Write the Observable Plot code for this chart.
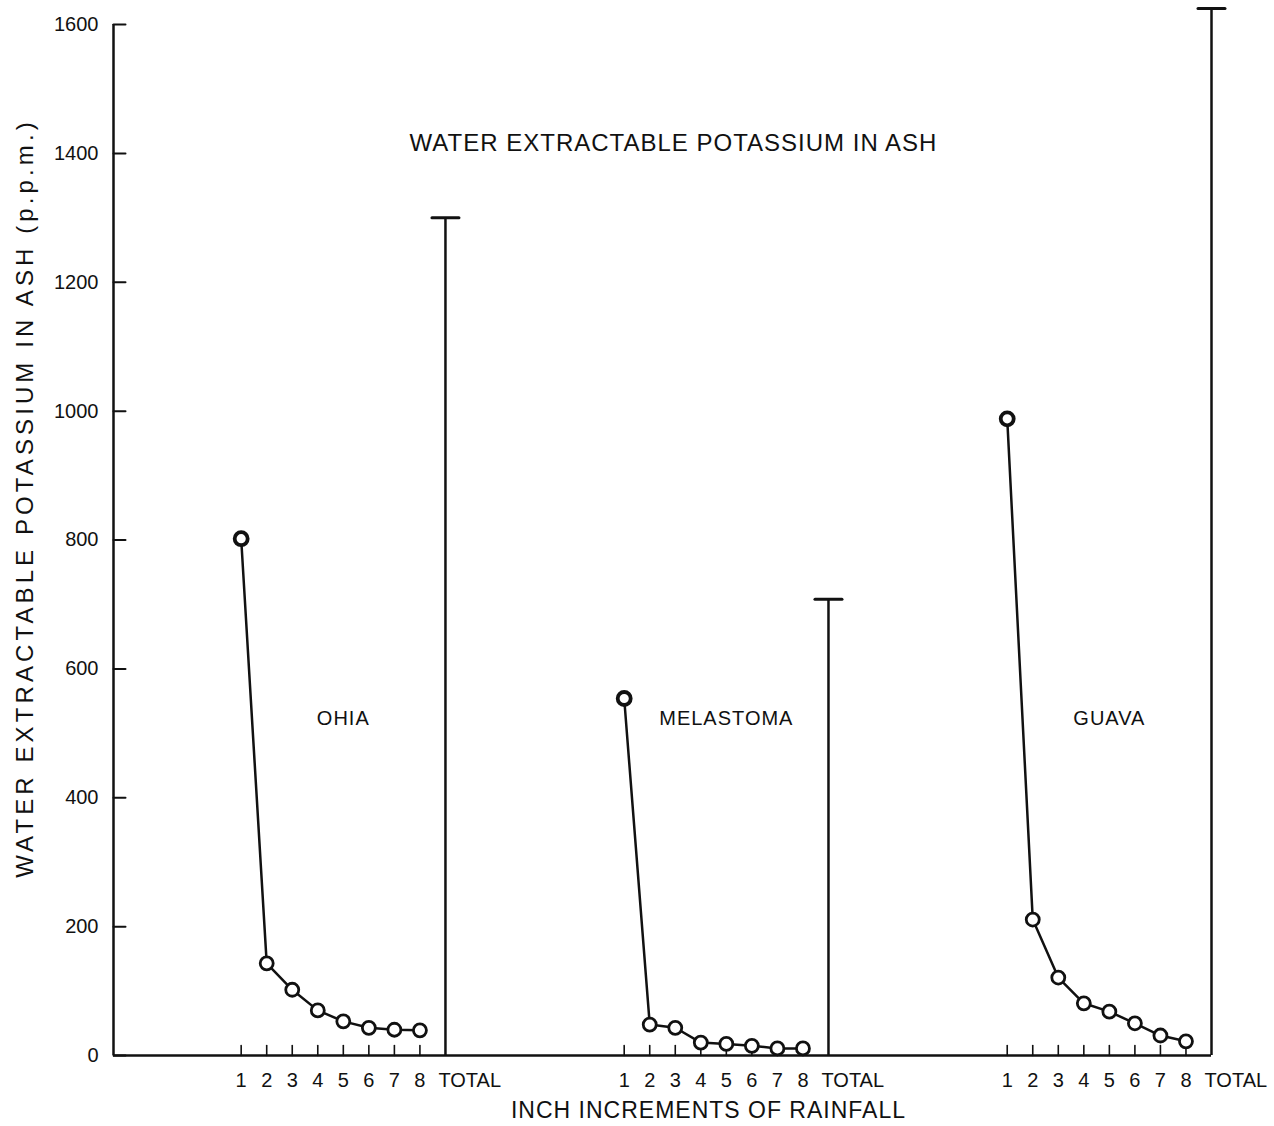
<!DOCTYPE html>
<html>
<head>
<meta charset="utf-8">
<script src="https://cdn.jsdelivr.net/npm/d3@7"></script>
<script src="https://cdn.jsdelivr.net/npm/@observablehq/plot@0.6"></script>
<style>
  html, body { margin: 0; padding: 0; background: #fff; }
  #chart svg { display: block; }
</style>
</head>
<body>
<div id="chart"></div>
<script>
// ---- data ----
const groups = ["OHIA", "MELASTOMA", "GUAVA"];
const increments = [1, 2, 3, 4, 5, 6, 7, 8];
const ohia = [802, 143, 102, 70, 53, 43, 40, 39];
const melastoma = [554, 48, 43, 20, 18, 15, 11, 11];
const guava = [988, 211, 121, 81, 68, 50, 31, 22];
const totals = [1300, 708, 1625];
const yTicks = [0, 200, 400, 600, 800, 1000, 1200, 1400, 1600];
const totalLabel = "TOTAL";
const title = "WATER EXTRACTABLE POTASSIUM IN ASH";
const yLabel = "WATER EXTRACTABLE POTASSIUM IN ASH (p.p.m.)";
const xLabel = "INCH INCREMENTS OF RAINFALL";

// ---- layout helpers ----
const seriesValues = [ohia, melastoma, guava];
const firstSlot = 5, groupStride = 15;
const pos = (gi, slot) => firstSlot + gi * groupStride + (slot - 1); // slot 9 = TOTAL

const points = groups.flatMap((g, gi) =>
  increments.map((inc, k) => ({group: g, x: pos(gi, inc), value: seriesValues[gi][k], first: k === 0})));
const totalRows = groups.map((g, gi) => ({group: g, x: pos(gi, 9), value: totals[gi]}));
const incTicks = groups.flatMap((g, gi) => increments.map(inc => ({x: pos(gi, inc), label: String(inc)})));
const incLabel = new Map(incTicks.map(d => [d.x, d.label]));
const groupLabelRows = groups.map((g, gi) => ({group: g, x: pos(gi, 5)}));

const lineShape = {draw(context, l) { context.moveTo(0, 0); context.lineTo(0, -l); }};

const chart = Plot.plot({
  width: 1274,
  height: 1126,
  marginLeft: 113,
  marginRight: 63,
  marginTop: 24,
  marginBottom: 71,
  style: {fontFamily: "'Liberation Sans', Arial, sans-serif", color: "#111", background: "#fff"},
  x: {domain: [0, 43]},
  y: {domain: [0, 1600]},
  marks: [
    // axis lines
    Plot.ruleX([0], {stroke: "#111", strokeWidth: 2.5}),
    Plot.ruleY([0], {stroke: "#111", strokeWidth: 2.5}),
    // inward ticks
    Plot.vector(yTicks, {y: d => d, frameAnchor: "left", rotate: 90, length: 12, anchor: "start", shape: lineShape, stroke: "#111", strokeWidth: 2}),
    Plot.vector(incTicks, {x: "x", frameAnchor: "bottom", length: 10, anchor: "start", shape: lineShape, stroke: "#111", strokeWidth: 1.6}),
    // tick labels
    Plot.axisY({ticks: yTicks, tickFormat: d => String(d), tickSize: 0, tickPadding: 15, fontSize: 20, label: null}),
    Plot.axisX({ticks: incTicks.map(d => d.x), tickFormat: d => incLabel.get(d), tickSize: 0, tickPadding: 17, fontSize: 20, label: null}),
    Plot.axisX({ticks: totalRows.map(d => d.x), tickFormat: () => totalLabel, tickSize: 0, tickPadding: 17, fontSize: 20, textAnchor: "start", dx: -7, label: null}),
    // totals
    Plot.ruleX(totalRows, {x: "x", y1: 0, y2: "value", stroke: "#111", strokeWidth: 2.5}),
    Plot.vector(totalRows, {x: "x", y: "value", rotate: 90, length: 27, anchor: "middle", shape: lineShape, stroke: "#111", strokeWidth: 3}),
    // series
    Plot.line(points, {x: "x", y: "value", z: "group", stroke: "#111", strokeWidth: 2.5}),
    Plot.dot(points, {x: "x", y: "value", r: 6.5, fill: "#fff", stroke: "#111", strokeWidth: d => d.first ? 3.8 : 2.8}),
    // group labels
    Plot.text(groupLabelRows, {x: "x", y: () => 523, text: "group", fontSize: 20, fill: "#111"}),
    // title and axis labels
    Plot.text([title], {frameAnchor: "top", dx: 11, dy: 119, lineAnchor: "middle", fontSize: 24, fill: "#111"}),
    Plot.text([xLabel], {frameAnchor: "bottom", dx: 46, dy: 55, lineAnchor: "middle", fontSize: 23, fill: "#111"}),
    Plot.text([yLabel], {frameAnchor: "left", textAnchor: "middle", dx: -88, dy: -42, rotate: -90, lineAnchor: "middle", fontSize: 24, fill: "#111"})
  ]
});

d3.select(chart).selectAll("text").each(function() {
  const t = this.textContent;
  if (t === yLabel) this.style.letterSpacing = "4.1px";
  else if (t === title) this.style.letterSpacing = "1px";
  else if (t === xLabel) this.style.letterSpacing = "1px";
  else if (groups.includes(t)) this.style.letterSpacing = "1px";
});

document.getElementById("chart").appendChild(chart);
</script>
</body>
</html>
